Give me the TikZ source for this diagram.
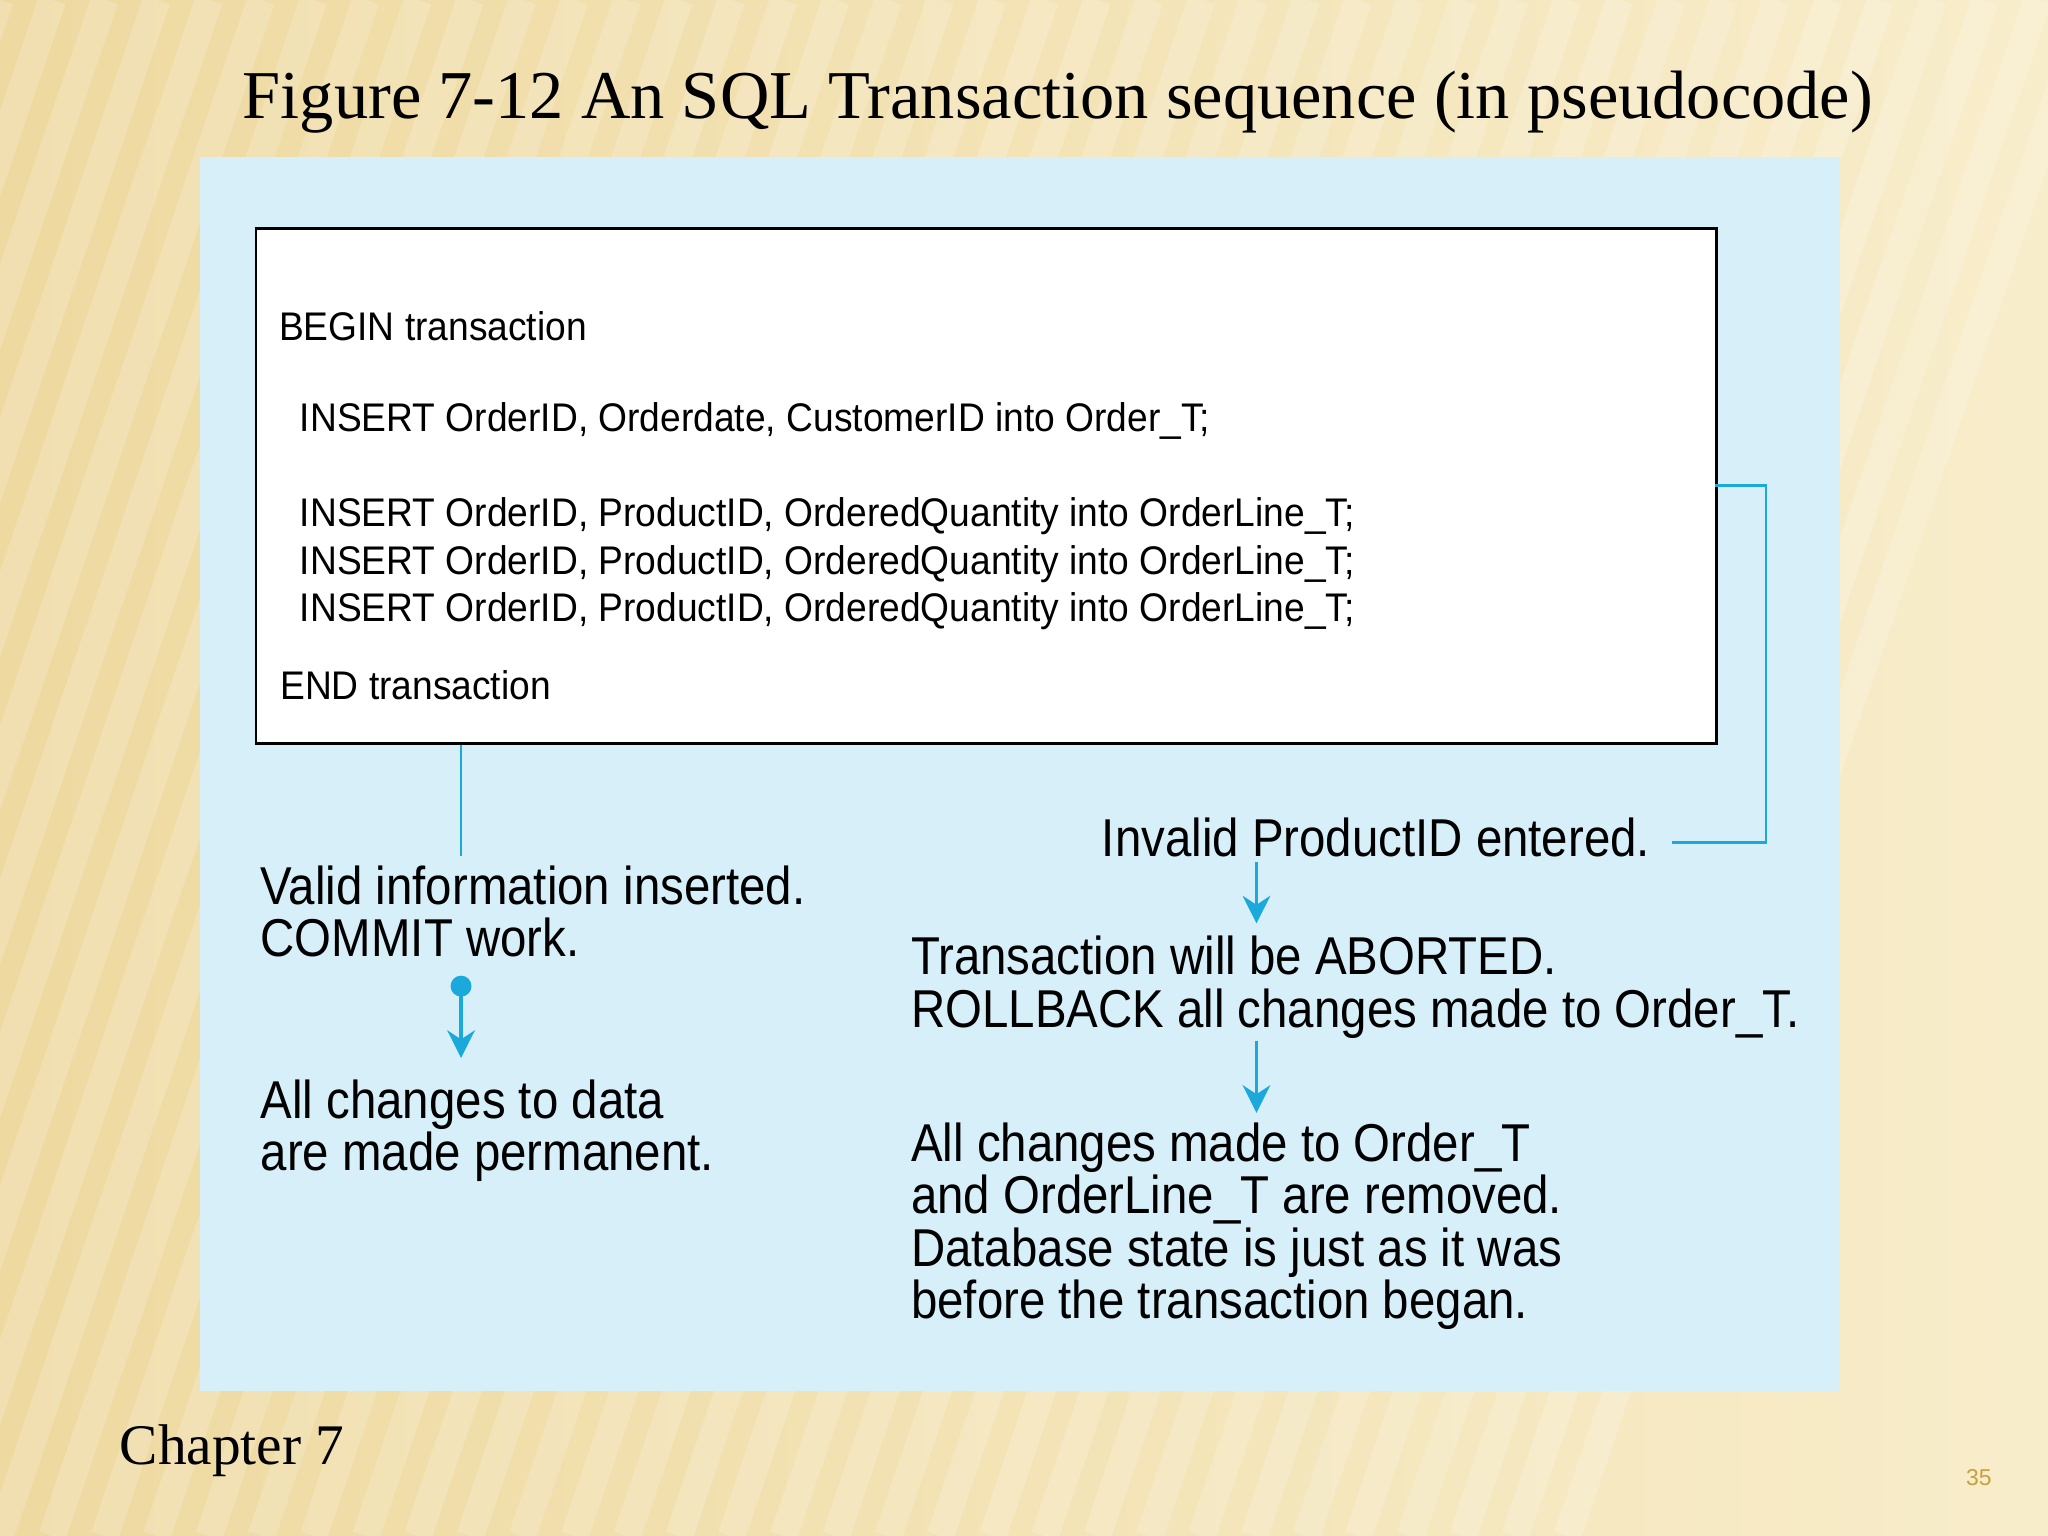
\documentclass[tikz,border=0pt]{standalone}
\usepackage{fontspec}
\setmainfont{Liberation Sans}
\newfontfamily\titlefont{Liberation Serif}
\usetikzlibrary{arrows.meta}
\definecolor{gold}{HTML}{EED9A0}
\definecolor{goldlight}{HTML}{F8EDCB}
\definecolor{panel}{HTML}{D6EFF9}
\definecolor{cyanline}{HTML}{1AA9DA}
\definecolor{pagenum}{HTML}{C8A040}
\begin{document}
\begin{tikzpicture}[x=0.01cm,y=-0.01cm,
  code/.style={anchor=west,inner sep=0pt,font=\fontsize{8.7}{10}\selectfont,xscale=0.93,transform shape},
  note/.style={anchor=north west,inner sep=0pt,align=left,font=\fontsize{11.6}{11.4}\selectfont,xscale=0.89,transform shape},
  conn/.style={cyanline,line width=0.6pt},
  arr/.style={cyanline,line width=0.8pt,-{Stealth[length=6pt,width=6pt]}}]
\useasboundingbox (0,0) rectangle (1568,1176);
\shade[left color=gold,right color=goldlight] (0,0) rectangle (1568,1176);
\foreach \i in {0,40,...,1600} \draw[white,opacity=0.18,line width=6pt] (\i-400,1176) -- (\i,0);
\node[anchor=north,inner sep=0pt,font=\titlefont\fontsize{14.9}{18}\selectfont] (title) at (810,54) {Figure 7-12 An SQL Transaction sequence (in pseudocode)};
\fill[panel] (153,120) rectangle (1409,1065);
\node[draw=black,fill=white,line width=0.6pt,minimum width=1118*0.01cm,minimum height=394*0.01cm,anchor=north west,inner sep=0pt] (box) at (195,174) {};
\node[code] (l1) at (213,250) {BEGIN transaction};
\node[code] (l2) at (229,322) {INSERT OrderID, Orderdate, CustomerID into Order\_T;};
\node[code] (l3) at (229,395) {INSERT OrderID, ProductID, OrderedQuantity into OrderLine\_T;};
\node[code] (l4) at (229,432) {INSERT OrderID, ProductID, OrderedQuantity into OrderLine\_T;};
\node[code] (l5) at (229,468) {INSERT OrderID, ProductID, OrderedQuantity into OrderLine\_T;};
\node[code] (l6) at (214,525) {END transaction};
\node[note] (valid) at (199,662) {Valid information inserted.\\COMMIT work.};
\node[note] (perm) at (199,826) {All changes to data\\are made permanent.};
\node[note,anchor=west] (invalid) at (843,641) {Invalid ProductID entered.};
\node[note] (abort) at (697,716) {Transaction will be ABORTED.\\ROLLBACK all changes made to Order\_T.};
\node[note] (removed) at (697,859) {All changes made to Order\_T\\and OrderLine\_T are removed.\\Database state is just as it was\\before the transaction began.};
\coordinate (c1) at (353,655);
\draw[conn] (box.south -| c1) -- (c1);
\coordinate (r1) at (1313,372);
\coordinate (r2) at (1352,372);
\coordinate (r3) at (1352,645);
\coordinate (r4) at (1280,645);
\draw[conn] (r1) -- (r2) -- (r3) -- (r4);
\coordinate (d0) at (353,755);
\coordinate (d1) at (353,810);
\fill[cyanline] (d0) circle (8);
\draw[arr] (d0) -- (d1);
\coordinate (a0) at (962,660); \coordinate (a1) at (962,707);
\draw[arr] (a0) -- (a1);
\coordinate (b0) at (962,797); \coordinate (b1) at (962,852);
\draw[arr] (b0) -- (b1);
\node[anchor=west,inner sep=0pt,font=\titlefont\fontsize{12.5}{14}\selectfont] (chap) at (91,1111) {Chapter 7};
\node[inner sep=0pt,text=pagenum,font=\fontsize{5}{6}\selectfont] (pg) at (1515,1131) {35};
\end{tikzpicture}
\end{document}
